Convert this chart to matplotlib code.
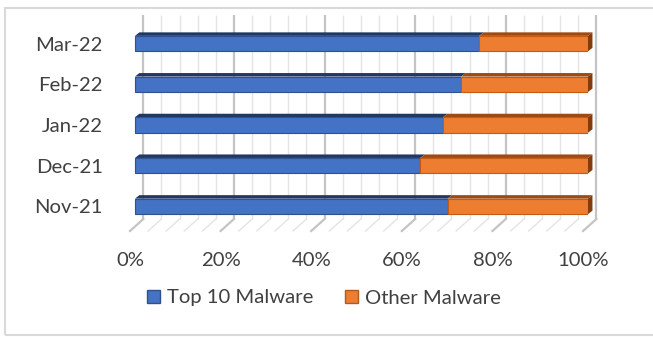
import matplotlib.pyplot as plt
import numpy as np
from matplotlib.patches import Polygon, Rectangle

plt.rcParams['font.family'] = ['Lato', 'DejaVu Sans']

# share of detections per month, in percent
months = ['Nov-21', 'Dec-21', 'Jan-22', 'Feb-22', 'Mar-22']
top10 = [69, 63, 68, 72, 76]
other = [31, 37, 32, 28, 24]
tick_vals = [0, 20, 40, 60, 80, 100]
tick_labels = ['0%', '20%', '40%', '60%', '80%', '100%']

W, H = 653, 337
fig = plt.figure(figsize=(W / 100, H / 100), dpi=100)
FS = 14.6

# pixel layout of the pseudo-3d plot area
x0_px, x1_px = 130, 588
y0_px, step_px = 206.4, 40.7
ylo, yhi = -0.75, 4.75
top_px = y0_px - yhi * step_px
bot_px = y0_px - ylo * step_px
ax = fig.add_axes([x0_px / W, 1 - bot_px / H, (x1_px - x0_px) / W, (bot_px - top_px) / H])
ax.set_xlim(0, 1)
ax.set_ylim(ylo, yhi)

sx = 1.0 / (x1_px - x0_px)      # data units per pixel, x
sy = 1.0 / step_px              # data units per pixel, y
def ypos(py):
    return (y0_px - py) * sy

# back wall and floor grid
wall_dx = 8.5 * sx
floor_dx = -5 * sx
wall_top, wall_bot, floor_front = ypos(15), ypos(219), ypos(231)
for k in range(26):
    v = k * 0.04
    major = k % 5 == 0
    c = '#c4c4c4' if major else '#e4e4e4'
    lw = 1.6 if major else 1.0
    ax.plot([v + wall_dx, v + wall_dx], [wall_bot, wall_top], color=c, lw=lw, zorder=0,
            clip_on=False, solid_capstyle='butt')
    ax.plot([v + wall_dx, v + floor_dx], [wall_bot, floor_front], color=c, lw=lw, zorder=0,
            clip_on=False)

# bars: front faces, top faces, right end
y = np.arange(len(months))
h = 15.5 * sy
ddx, ddy = 4.5 * sx, 3.5 * sy
t = np.array(top10) / 100
o = np.array(other) / 100
ax.barh(y, t, height=h, color='#4472C4', edgecolor='#2F528F', lw=0.8, zorder=3)
ax.barh(y, o, left=t, height=h, color='#ED7D31', edgecolor='#C55A11', lw=0.8, zorder=3)
for i in y:
    yt = i + h / 2
    ax.add_patch(Polygon([(0, yt), (t[i], yt), (t[i] + ddx, yt + ddy), (ddx, yt + ddy)],
                         closed=True, fc='#203864', ec='none', zorder=2.5, clip_on=False))
    ax.add_patch(Polygon([(t[i], yt), (1, yt), (1 + ddx, yt + ddy), (t[i] + ddx, yt + ddy)],
                         closed=True, fc='#9E4A12', ec='none', zorder=2.5, clip_on=False))
    ax.add_patch(Polygon([(1, i - h / 2), (1, yt), (1 + ddx, yt + ddy), (1 + ddx, i - h / 2 + ddy)],
                         closed=True, fc='#843C0C', ec='none', zorder=2.5, clip_on=False))

ax.set_yticks(y)
ax.set_yticklabels(months)
ax.set_xticks(np.array(tick_vals) / 100 + floor_dx)
ax.set_xticklabels(tick_labels)
ax.tick_params(axis='both', length=0, labelsize=FS, labelcolor='#404040')
ax.tick_params(axis='y', pad=19.5)
ax.tick_params(axis='x', pad=10.5)
for s in ax.spines.values():
    s.set_visible(False)

handles = [Rectangle((0, 0), 1, 1, fc='#4472C4', ec='#2F528F'),
           Rectangle((0, 0), 1, 1, fc='#ED7D31', ec='#AE5A21')]
fig.legend(handles, ['Top 10 Malware', 'Other Malware'], loc='center',
           bbox_to_anchor=(324 / W, 1 - 298 / H), ncol=2, frameon=False,
           fontsize=FS, labelcolor='#404040', handlelength=0.6, handleheight=0.65,
           handletextpad=0.35, columnspacing=1.6)

# chart border
fig.patches.append(Rectangle((5 / W, 2 / H), 1, 1 - 10 / H, transform=fig.transFigure,
                             fill=False, ec='#d9d9d9', lw=1.5))

fig.savefig('out.png', dpi=100)
